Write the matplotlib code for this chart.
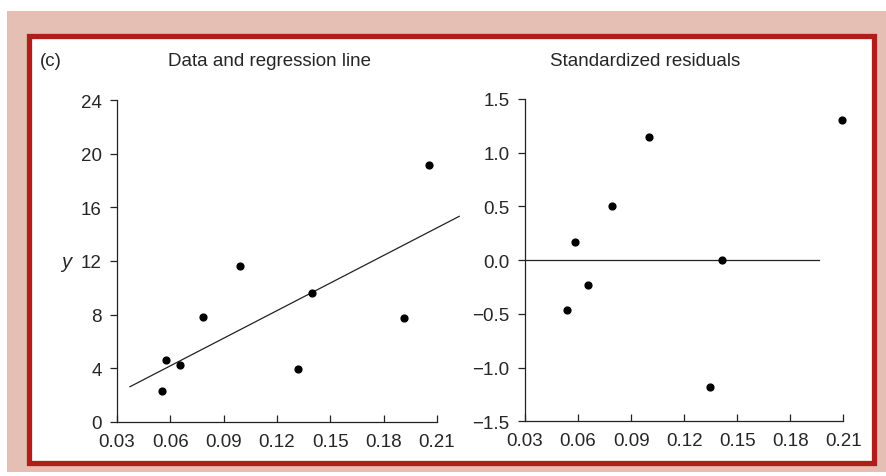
import matplotlib
matplotlib.use("Agg")
import matplotlib.pyplot as plt
from matplotlib.patches import Rectangle

plt.rcParams['font.family'] = ['Liberation Sans', 'DejaVu Sans']

# ---- data ----
data_x = [0.0555, 0.0576, 0.0654, 0.0786, 0.0992, 0.1316, 0.1399, 0.1916, 0.2055]
data_y = [2.31, 4.62, 4.27, 7.82, 11.65, 3.95, 9.64, 7.73, 19.15]

reg_line_x = [0.0373, 0.2225]
reg_line_y = [2.63, 15.33]

resid_x = [0.0537, 0.0583, 0.0654, 0.0790, 0.0999, 0.1346, 0.1412, 0.2091]
resid_y = [-0.467, 0.167, -0.228, 0.507, 1.144, -1.18, 0.005, 1.305]

zero_line_x = [0.03, 0.1962]
zero_line_y = [0.0, 0.0]

x_ticks = [0.03, 0.06, 0.09, 0.12, 0.15, 0.18, 0.21]
x_tick_labels = ["0.03", "0.06", "0.09", "0.12", "0.15", "0.18", "0.21"]
left_y_ticks = [0, 4, 8, 12, 16, 20, 24]
right_y_ticks = [-1.5, -1.0, -0.5, 0.0, 0.5, 1.0, 1.5]
right_y_labels = ["\u22121.5", "\u22121.0", "\u22120.5", "0.0", "0.5", "1.0", "1.5"]

W, H = 887, 477
fig = plt.figure(figsize=(W / 100, H / 100), dpi=100)
fig.patch.set_facecolor("white")

def fx(px):
    return px / W

def fy(py):
    return 1 - py / H

# pink surround
fig.patches.append(Rectangle((fx(7), fy(473)), fx(880), (473 - 12) / H,
                             transform=fig.transFigure, facecolor="#e5bfb3",
                             edgecolor="none", zorder=-3))
# red frame with white interior
fig.patches.append(Rectangle((fx(29.5), fy(463.5)), fx(874 - 29.5), (463.5 - 37) / H,
                             transform=fig.transFigure, facecolor="white",
                             edgecolor="#b01e1c", linewidth=3.8, zorder=-2))

text_color = "#262626"
fs = 13.5

def style_axes(ax):
    for s in ["top", "right"]:
        ax.spines[s].set_visible(False)
    for s in ["left", "bottom"]:
        ax.spines[s].set_color("#222222")
        ax.spines[s].set_linewidth(0.9)
    ax.patch.set_visible(False)
    ax.tick_params(axis="y", direction="out", length=5, width=0.9, pad=6,
                   labelsize=fs, colors="#222222", labelcolor=text_color)
    ax.tick_params(axis="x", direction="in", length=5, width=0.9, pad=8,
                   labelsize=fs, colors="#222222", labelcolor=text_color)
    ax.set_xticks(x_ticks)
    ax.set_xticklabels(x_tick_labels)
    ax.set_xlim(0.03, 0.21)

# left panel
ax1 = fig.add_axes([fx(117), fy(423), fx(437 - 117), (423 - 101) / H])
style_axes(ax1)
ax1.set_ylim(0, 24)
ax1.set_yticks(left_y_ticks)
ax1.scatter(data_x, data_y, s=24, color="black", zorder=3, clip_on=False)
ax1.plot(reg_line_x, reg_line_y, color="#222222", linewidth=0.9, clip_on=False)
ax1.set_ylabel("y", rotation=0, fontstyle="italic", fontsize=fs + 1, color=text_color,
               va="center", ha="center")
ax1.yaxis.set_label_coords(-0.16, 0.5)

# right panel
ax2 = fig.add_axes([fx(525), fy(422.3), fx(843.3 - 525), (422.3 - 100) / H])
style_axes(ax2)
ax2.set_ylim(-1.5, 1.5)
ax2.set_yticks(right_y_ticks)
ax2.set_yticklabels(right_y_labels)
ax2.plot(zero_line_x, zero_line_y, color="#222222", linewidth=0.9)
ax2.scatter(resid_x, resid_y, s=24, color="black", zorder=3, clip_on=False)

# titles
fig.text(fx(270), fy(61), "Data and regression line", ha="center", va="center",
         fontsize=fs, color=text_color)
fig.text(fx(645), fy(61), "Standardized residuals", ha="center", va="center",
         fontsize=fs, color=text_color)
fig.text(fx(40), fy(61), "(c)", ha="left", va="center", fontsize=fs, color=text_color)

fig.savefig("out.png", dpi=100, facecolor=fig.get_facecolor())
